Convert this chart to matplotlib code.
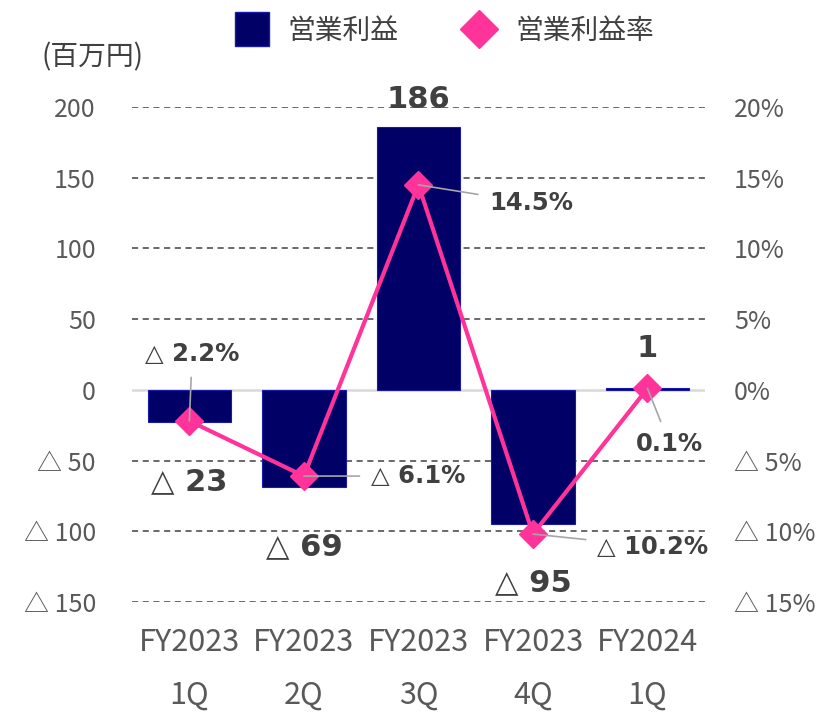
import matplotlib
matplotlib.use("Agg")
import matplotlib.pyplot as plt
from matplotlib.lines import Line2D

plt.rcParams['font.family'] = ['Noto Sans CJK JP', 'DejaVu Sans']

# データ
categories = ['FY2023\n1Q', 'FY2023\n2Q', 'FY2023\n3Q', 'FY2023\n4Q', 'FY2024\n1Q']
operating_profit = [-23, -69, 186, -95, 1]          # 百万円
profit_margin = [-2.2, -6.1, 14.5, -10.2, 0.1]      # %
left_ticks = [-150, -100, -50, 0, 50, 100, 150, 200]
right_ticks = [-15, -10, -5, 0, 5, 10, 15, 20]

bar_color = '#000066'
line_color = '#FF3399'
tick_color = '#595959'
label_color = '#404040'
bold_fam = ['DejaVu Sans', 'Noto Sans CJK JP']


def tri(v, suffix=''):
    if v < 0:
        return '△ ' + f'{abs(v):g}' + suffix
    return f'{v:g}' + suffix


fig = plt.figure(figsize=(8.36, 7.14), dpi=100)
ax = fig.add_axes([0.158, 0.157, 0.685, 0.693])
ax2 = ax.twinx()

x = list(range(len(categories)))

# 棒グラフ
ax.bar(x, operating_profit, width=0.73, color=bar_color, edgecolor='#1a1aa8',
       linewidth=0.8, zorder=3)
ax.set_xlim(-0.5, 4.5)
ax.set_ylim(-150, 200)

# グリッド
for t in left_ticks:
    if t == 0:
        ax.axhline(0, color='#D9D9D9', lw=1.8, zorder=2)
    else:
        ax.axhline(t, color='#404040', lw=1.1, ls=(0, (4, 3)), zorder=1)

ax.set_yticks(left_ticks)
ax.set_yticklabels([tri(t) for t in left_ticks])
ax.set_xticks(x)
ax.set_xticklabels(categories, fontsize=22, linespacing=1.9)
ax.tick_params(axis='y', length=0, pad=26, labelsize=18, colors=tick_color)
ax.tick_params(axis='x', length=0, pad=18, colors=tick_color)
for s in ax.spines.values():
    s.set_visible(False)

# 棒ラベル
for xi, v in zip(x, operating_profit):
    if v >= 0:
        ax.annotate(tri(v), (xi, v), xytext=(0, 9 if v > 100 else 18),
                    textcoords='offset points', ha='center', va='bottom',
                    fontsize=22, fontweight='bold', color=label_color, family=bold_fam)
    else:
        ax.annotate(tri(v), (xi, v), xytext=(0, -32),
                    textcoords='offset points', ha='center', va='top',
                    fontsize=22, fontweight='bold', color=label_color, family=bold_fam)

# 折れ線グラフ
ax2.plot(x, profit_margin, color=line_color, lw=3, marker='D', markersize=14,
         zorder=4)
ax2.set_ylim(-15, 20)
ax2.set_yticks(right_ticks)
ax2.set_yticklabels([tri(t, '%') for t in right_ticks])
ax2.tick_params(axis='y', length=0, pad=21, labelsize=18, colors=tick_color)
for s in ax2.spines.values():
    s.set_visible(False)

# 利益率ラベル(引出線つき)
offsets = [(2, 48), (82, 0), (81, -13), (86, -9), (16, -40)]
for xi, v, off in zip(x, profit_margin, offsets):
    ax2.annotate(tri(v, '%'), (xi, v), xytext=off, textcoords='offset points',
                 ha='center', va='center', fontsize=17.5, fontweight='bold',
                 color=label_color, family=bold_fam, zorder=5,
                 arrowprops=dict(arrowstyle='-', color='#A6A6A6', lw=1.2,
                                 shrinkA=6, shrinkB=0))

# 単位
fig.text(0.05, 0.92, '(百万円)', fontsize=20, color=label_color, va='center')

# 凡例
handles = [
    Line2D([], [], marker='s', linestyle='none', markersize=25,
           markerfacecolor=bar_color, markeredgecolor='#1a1aa8'),
    Line2D([], [], marker='D', linestyle='none', markersize=19,
           markerfacecolor=line_color, markeredgecolor=line_color),
]
fig.legend(handles, ['営業利益', '営業利益率'], loc='center', ncol=2,
           bbox_to_anchor=(0.525, 0.957), frameon=False, fontsize=20,
           handletextpad=0.3, columnspacing=1.9, labelcolor=label_color)

fig.savefig('out.png', dpi=100)
